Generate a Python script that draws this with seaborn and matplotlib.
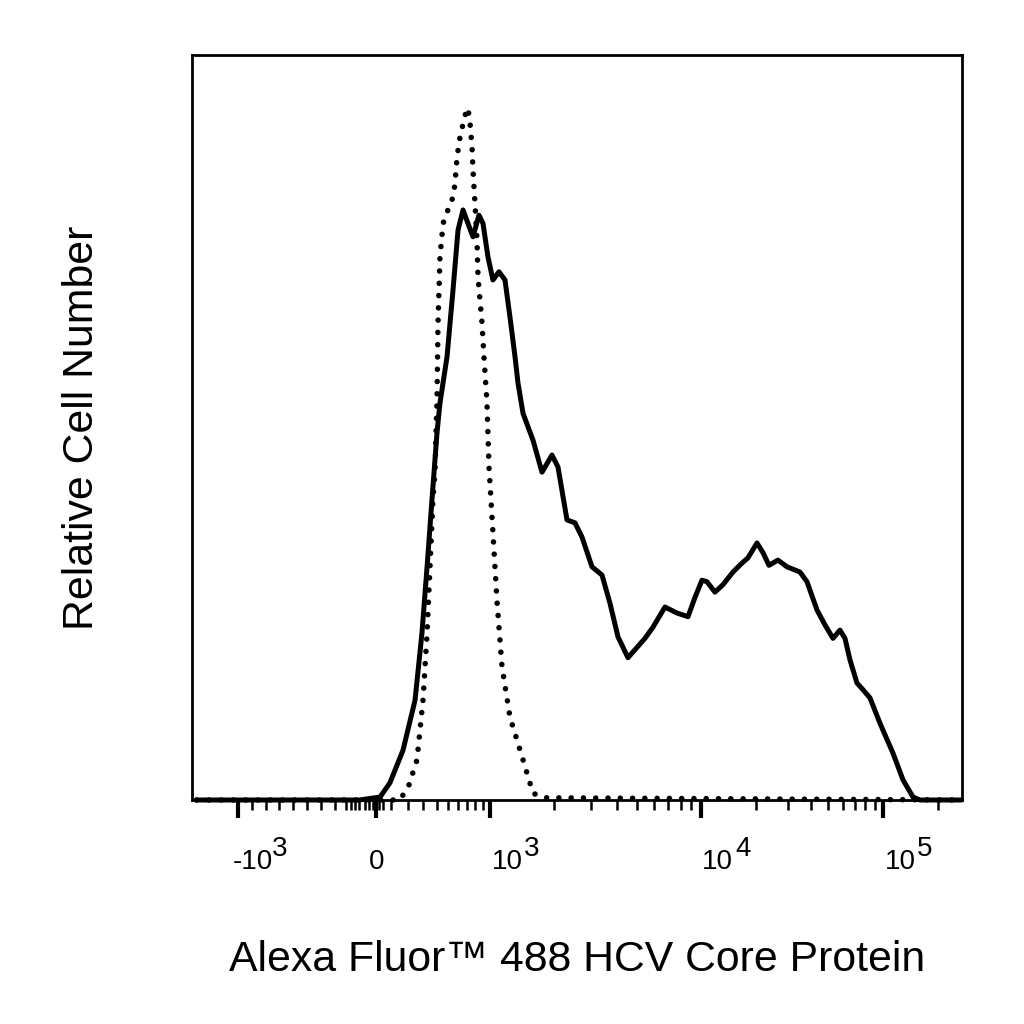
import numpy as np
import pandas as pd
import matplotlib
matplotlib.use("Agg")
import matplotlib.pyplot as plt
import seaborn as sns

# HCV core stained cells (solid) vs. isotype control (dotted)
sample_fl = [-1300, -120, 27, 93, 171, 247, 293, 329, 364, 400, 427, 491, 550, 600,
             656, 712, 775, 850, 900, 971, 1033, 1103, 1178, 1244, 1314, 1357, 1434,
             1599, 1764, 1967, 2100, 2317, 2528, 2729, 3044, 3395, 3705, 4043, 4508,
             5428, 5923, 6751, 7696, 8679, 9367, 10127, 10789, 11937, 13208, 14990,
             16800, 18120, 20310, 21910, 23640, 26490, 29690, 34990, 38230, 43400,
             48000, 53130, 58030, 61820, 65870, 71960, 77640, 84830, 96270, 113400,
             128800, 146100, 159700, 270000]
sample_count = [0, 0, 0.4, 2.3, 6.7, 13.4, 22.4, 31.3, 40.3, 49.3, 53.3, 59.5, 68.5, 76.5,
                79.2, 77.4, 75.6, 78.5, 77.4, 72.9, 69.8, 70.9, 69.8, 64.8, 59.5, 56.0,
                51.9, 48.3, 44.0, 46.3, 44.7, 37.6, 37.2, 35.3, 31.3, 30.2, 26.4, 21.9,
                19.1, 21.7, 23.2, 25.9, 25.1, 24.6, 27.2, 29.5, 29.3, 27.9, 28.9, 30.6,
                31.8, 32.5, 34.5, 33.2, 31.5, 32.2, 31.3, 30.6, 29.3, 25.5, 23.5, 21.7,
                22.8, 21.7, 18.8, 15.7, 14.8, 13.7, 10.3, 6.3, 2.7, 0.4, 0, 0]

control_fl = [-1300, 150, 200, 260, 300, 329, 350, 371, 386, 393, 400, 409, 427, 455,
              518, 550, 570, 590, 622, 678, 712, 738, 763, 775, 800, 825, 838, 888,
              914, 957, 986, 1033, 1079, 1140, 1244, 1434, 1599, 1823, 270000]
control_count = [0, 0, 1.6, 5.4, 13.4, 22.4, 31.3, 40.3, 44.3, 49.3, 53.7, 64.0, 72.9,
                 77.4, 79.9, 80.9, 82.8, 86.3, 89.0, 91.9, 92.9, 90.9, 87.7, 84.6, 80.1,
                 75.2, 70.2, 64.0, 59.5, 53.3, 44.7, 35.8, 26.8, 17.9, 11.1, 5.4, 0.9,
                 0.3, 0]

major_ticks = [-1000, 0, 1000, 10000, 100000]
major_bases = ["-10", "0", "10", "10", "10"]
major_exps = ["3", "", "3", "4", "5"]
minor_ticks = ([-900, -800, -700, -600, -500, -400, -300, -150, -50, 50]
               + list(range(100, 1000, 100))
               + list(range(2000, 10000, 1000))
               + list(range(20000, 100000, 10000))
               + [200000])
mid_ticks = [-220, -180, -120, -80, -20, 20]

# biexponential-style display: value -> fraction of axis width
KNOT_VALUES = [-5000, -1000, 0, 100, 200, 300, 400, 500, 600, 700, 800, 900,
               1000, 1e4, 1e5, 1e6]
KNOT_POS = [-0.6575, 0.0597, 0.2390, 0.2584, 0.2805, 0.3000, 0.3182, 0.3325,
            0.3455, 0.3571, 0.3675, 0.3779, 0.3870, 0.6610, 0.8974, 1.1338]


def warp(x):
    x = np.asarray(x, dtype=float)
    return np.where(x > 1000, 1000 * (1 + np.log10(np.maximum(x, 1000) / 1000)), x)


def unwarp(g):
    g = np.asarray(g, dtype=float)
    return np.where(g > 1000, 1000 * 10 ** (np.minimum(g, 1e5) / 1000 - 1), g)


G_KNOTS = warp(KNOT_VALUES)


def forward(x):
    return np.interp(warp(x), G_KNOTS, KNOT_POS)


def inverse(u):
    return unwarp(np.interp(u, KNOT_POS, G_KNOTS))


sample = pd.DataFrame({"fl": sample_fl, "count": sample_count})
control = pd.DataFrame({"fl": control_fl, "count": control_count})

sns.set_style("white")
plt.rcParams["font.family"] = ["Liberation Sans", "DejaVu Sans"]
plt.rcParams["text.color"] = "black"
plt.rcParams["axes.labelcolor"] = "black"

fig = plt.figure(figsize=(10.24, 10.24), dpi=100)
ax = fig.add_axes([192 / 1024, 224 / 1024, 770 / 1024, 745 / 1024])
ax.set_xscale("function", functions=(forward, inverse))

sns.lineplot(data=control, x="fl", y="count", ax=ax, color="black", estimator=None,
             sort=False, linewidth=4.0, linestyle=(0, (0.01, 2.2)),
             dash_capstyle="round", clip_on=False)
sns.lineplot(data=sample, x="fl", y="count", ax=ax, color="black", estimator=None,
             sort=False, linewidth=3.6, solid_joinstyle="round", clip_on=False)

ax.set_xlim(float(inverse(0.0)), float(inverse(1.0)))
ax.set_ylim(0, 100)
ax.set_yticks([])

ax.set_xticks(major_ticks)
ax.set_xticklabels([""] * len(major_ticks))
ax.set_xticks(minor_ticks + mid_ticks, minor=True)
ax.tick_params(axis="x", which="major", direction="out", length=13, width=3.0,
               color="black", bottom=True)
ax.tick_params(axis="x", which="minor", direction="out", length=7, width=1.8,
               color="black", bottom=True)
for tick in ax.xaxis.get_minor_ticks():
    if tick.get_loc() in mid_ticks:
        tick.tick1line.set_markersize(11)
        tick.tick1line.set_markeredgewidth(3.0)

for v, base, exp in zip(major_ticks, major_bases, major_exps):
    if exp:
        dx = -3.6 if base.startswith("-") else 1.0
        ax.annotate(base, xy=(v, 0), xycoords=("data", "axes fraction"),
                    xytext=(dx, -50), textcoords="offset points",
                    ha="left", va="baseline", fontsize=20)
        ax.annotate(exp, xy=(v, 0), xycoords=("data", "axes fraction"),
                    xytext=(24.5, -40), textcoords="offset points",
                    ha="left", va="baseline", fontsize=20)
    else:
        ax.annotate(base, xy=(v, 0), xycoords=("data", "axes fraction"),
                    xytext=(0.5, -50), textcoords="offset points",
                    ha="center", va="baseline", fontsize=20)

for side in ["left", "right", "top", "bottom"]:
    ax.spines[side].set_visible(True)
    ax.spines[side].set_color("black")
    ax.spines[side].set_linewidth(2.0)

ax.set_xlabel("Alexa Fluor\u2122 488 HCV Core Protein", fontsize=30.8)
ax.set_ylabel("Relative Cell Number", fontsize=30.8)
ax.xaxis.set_label_coords(0.5, -0.188)
ax.yaxis.set_label_coords(-0.117, 0.5)

fig.savefig("out.png", dpi=100)
